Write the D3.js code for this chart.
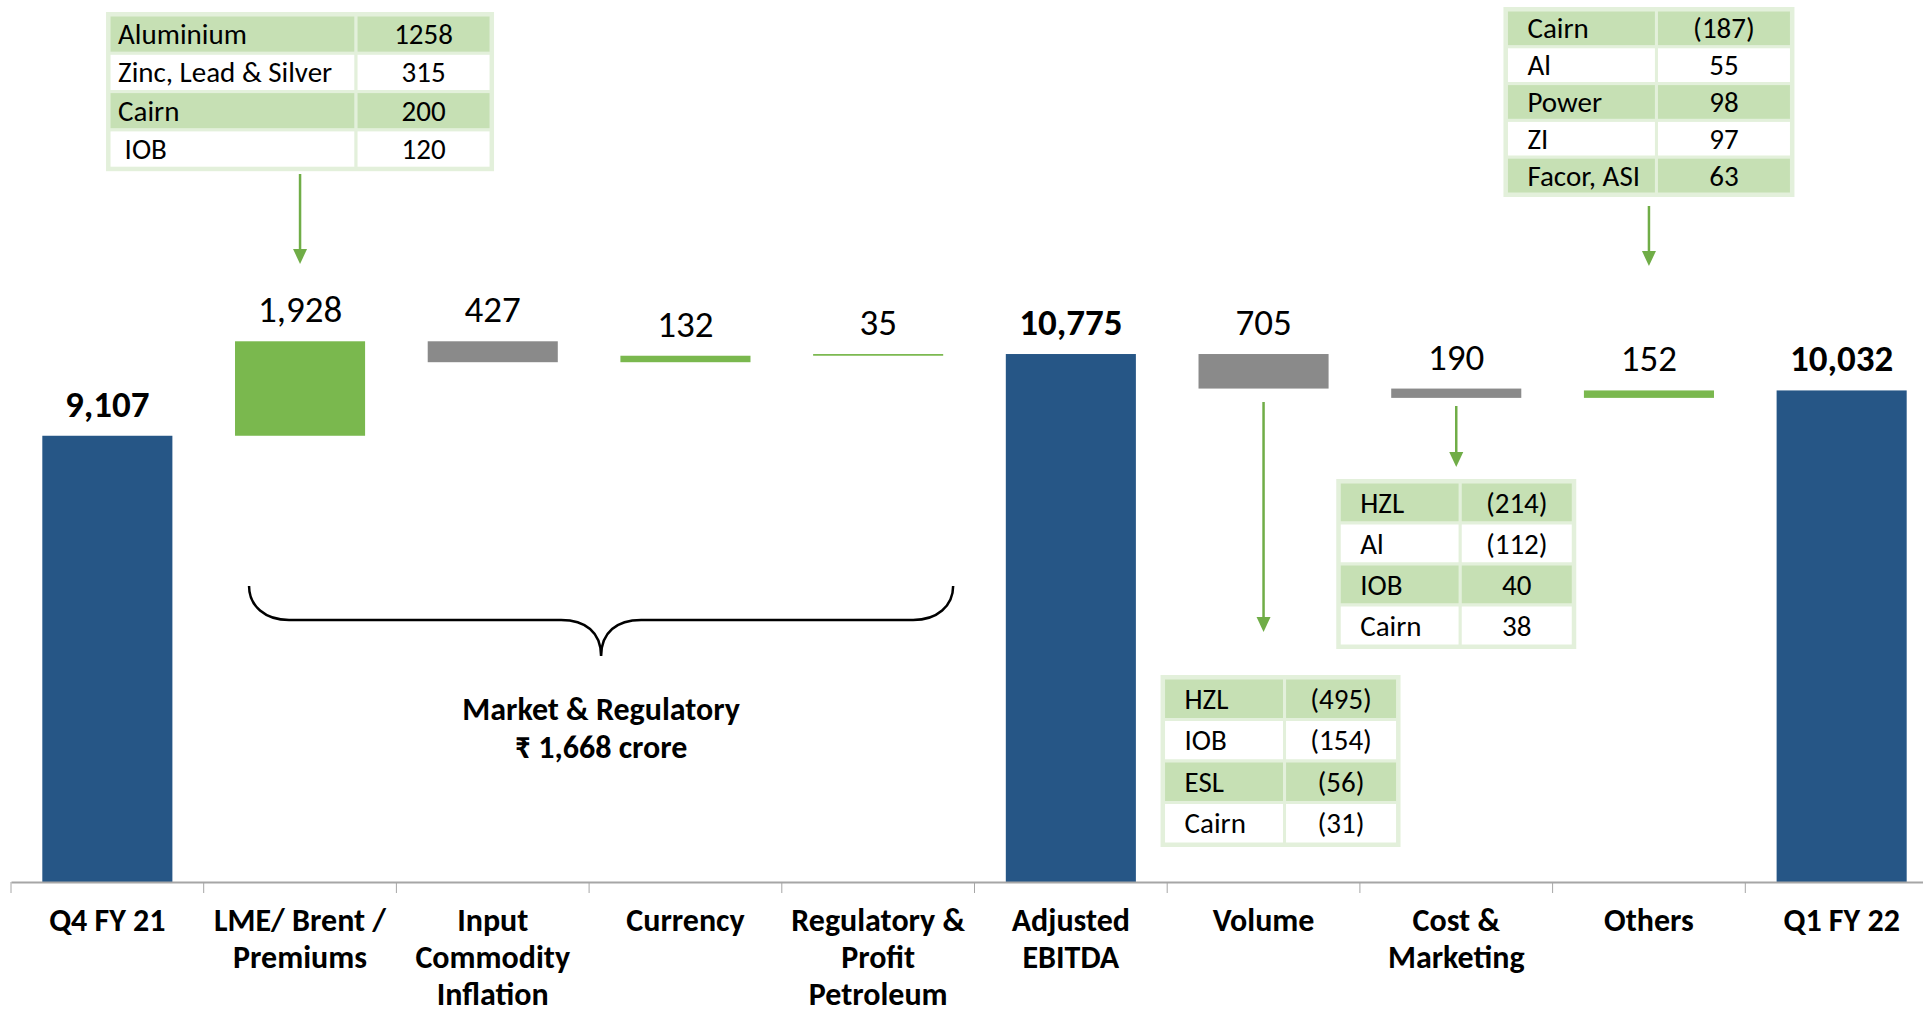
<!DOCTYPE html>
<html>
<head>
<meta charset="utf-8">
<script src="https://cdn.jsdelivr.net/npm/d3@7"></script>
<style>
  body { margin: 0; background: #fff; }
  svg { display: block; font-family: Carlito, Calibri, Lato, "Open Sans", sans-serif; }
</style>
</head>
<body>
<div id="chart"></div>
<script>
// EBITDA bridge Q4 FY21 -> Q1 FY22 (Rs crore)
const categories = [
  "Q4 FY 21", "LME/ Brent /\nPremiums", "Input\nCommodity\nInflation", "Currency",
  "Regulatory &\nProfit\nPetroleum", "Adjusted\nEBITDA", "Volume", "Cost &\nMarketing",
  "Others", "Q1 FY 22"
];
const changes = [9107, 1928, -427, 132, 35, 10775, -705, -190, 152, 10032];
const isTotal = [true, false, false, false, false, true, false, false, false, true];

// breakdown tables
const lmeRows = [["Aluminium", "1258"], ["Zinc, Lead & Silver", "315"], ["Cairn", "200"], [" IOB", "120"]];
const othersRows = [["Cairn", "(187)"], ["Al", "55"], ["Power", "98"], ["ZI", "97"], ["Facor, ASI", "63"]];
const costRows = [["HZL", "(214)"], ["Al", "(112)"], ["IOB", "40"], ["Cairn", "38"]];
const volumeRows = [["HZL", "(495)"], ["IOB", "(154)"], ["ESL", "(56)"], ["Cairn", "(31)"]];
const braceLines = ["Market & Regulatory", "\u20B9 1,668 crore"];

const W = 1923, H = 1013;
const BLUE = "#265686", GREEN = "#7ab84e", GRAY = "#8a8a8a", ARROW = "#70ad47";
const TABLE_FILL = "#c6e0b4", TABLE_LINE = "#e3f0db";

const svg = d3.select("#chart").append("svg")
  .attr("width", W).attr("height", H)
  .attr("viewBox", `0 0 ${W} ${H}`);

// running totals for the waterfall
let running = 0;
const steps = changes.map((v, i) => {
  let y0, y1;
  if (isTotal[i]) { y0 = 0; y1 = v; }
  else { y0 = running; y1 = running + v; }
  running = y1;
  return { cat: categories[i], value: v, y0, y1, total: isTotal[i] };
});

const xCell = d3.scaleBand().domain(categories).range([11, 1938]);
const x = d3.scaleBand().domain(categories).range([11, 1938])
  .paddingInner(0.325).paddingOuter(0.1625);
const y = d3.scaleLinear().domain([0, 18000]).range([882, 0]);
const xc = c => xCell(c) + xCell.bandwidth() / 2;

// bars
svg.append("g").selectAll("rect").data(steps).join("rect")
  .attr("x", d => x(d.cat))
  .attr("width", x.bandwidth())
  .attr("y", d => y(Math.max(d.y0, d.y1)))
  .attr("height", d => Math.max(1.5, Math.abs(y(d.y0) - y(d.y1))))
  .attr("fill", d => d.total ? BLUE : (d.value > 0 ? GREEN : GRAY));

// value labels
const fmt = d3.format(",");
svg.append("g").selectAll("text").data(steps).join("text")
  .attr("x", d => xc(d.cat))
  .attr("y", d => y(Math.max(d.y0, d.y1)) - 19)
  .attr("text-anchor", "middle")
  .style("font-size", "37px")
  .style("font-weight", d => d.total ? "bold" : "normal")
  .attr("fill", "#000")
  .text(d => fmt(Math.abs(d.value)));

// category axis
const axis = svg.append("g").attr("transform", `translate(0,${y(0)})`)
  .call(d3.axisBottom(xCell).tickSize(0).tickFormat(""));
axis.select(".domain").attr("stroke", "#a6a6a6").attr("stroke-width", 2);
axis.selectAll(".tick").remove();
axis.selectAll("line.sep").data(categories).join("line")
  .attr("class", "sep")
  .attr("x1", d => xCell(d)).attr("x2", d => xCell(d))
  .attr("y1", 0).attr("y2", 11)
  .attr("stroke", "#a6a6a6").attr("stroke-width", 1);

const labels = svg.append("g").selectAll("text").data(categories).join("text")
  .attr("x", d => xc(d))
  .attr("text-anchor", "middle")
  .style("font-size", "32px")
  .style("font-weight", "bold");
labels.each(function (d) {
  const t = d3.select(this);
  d.split("\n").forEach((line, i) => {
    t.append("tspan").attr("x", xc(d)).attr("y", 931 + i * 37).text(line);
  });
});

// brace over the market & regulatory items
const bl = xc(categories[1]) - 51, br = xc(categories[4]) + 75, bm = (bl + br) / 2;
const bTop = 586, bMid = 620, bTip = 656;
svg.append("path")
  .attr("d", `M${bl},${bTop} C${bl},${bMid - 14} ${bl + 16},${bMid} ${bl + 40},${bMid}
    H${bm - 40} C${bm - 16},${bMid} ${bm},${bMid + 12} ${bm},${bTip}
    C${bm},${bMid + 12} ${bm + 16},${bMid} ${bm + 40},${bMid}
    H${br - 40} C${br - 16},${bMid} ${br},${bMid - 14} ${br},${bTop}`)
  .attr("fill", "none").attr("stroke", "#000").attr("stroke-width", 2.5);
svg.append("g").selectAll("text").data(braceLines).join("text")
  .attr("x", bm).attr("y", (d, i) => 720 + i * 38)
  .attr("text-anchor", "middle")
  .style("font-size", "32px").style("font-weight", "bold")
  .text(d => d);

// breakdown tables
function drawTable(rows, cx, top, w1, w2, rowH, pad) {
  const left = cx - (w1 + w2) / 2;
  const g = svg.append("g");
  g.append("rect").attr("x", left - 1.5).attr("y", top - 1.5)
    .attr("width", w1 + w2 + 3).attr("height", rows.length * rowH + 3)
    .attr("fill", "#fff").attr("stroke", TABLE_LINE).attr("stroke-width", 3);
  rows.forEach((r, i) => {
    const fill = i % 2 === 0 ? TABLE_FILL : "#fff";
    const ty = top + i * rowH;
    g.append("rect").attr("x", left).attr("y", ty).attr("width", w1).attr("height", rowH)
      .attr("fill", fill).attr("stroke", TABLE_LINE).attr("stroke-width", 3);
    g.append("rect").attr("x", left + w1).attr("y", ty).attr("width", w2).attr("height", rowH)
      .attr("fill", fill).attr("stroke", TABLE_LINE).attr("stroke-width", 3);
    g.append("text").attr("x", left + pad).attr("y", ty + rowH / 2 + 10)
      .style("font-size", "29px").style("white-space", "pre").text(r[0]);
    g.append("text").attr("x", left + w1 + w2 / 2).attr("y", ty + rowH / 2 + 10)
      .attr("text-anchor", "middle").style("font-size", "29px").text(r[1]);
  });
}
drawTable(lmeRows, xc(categories[1]), 15, 247, 135, 38.3, 9);
drawTable(othersRows, xc(categories[8]), 10, 150, 135, 36.8, 21);
drawTable(costRows, xc(categories[7]), 482, 121, 113, 41, 21);
drawTable(volumeRows, xc(categories[6]) + 17, 678, 121, 113, 41.5, 21);

// arrows pointing from tables to bars
function arrow(cx, y1, y2) {
  svg.append("line").attr("x1", cx).attr("x2", cx).attr("y1", y1).attr("y2", y2 - 12)
    .attr("stroke", ARROW).attr("stroke-width", 2.5);
  svg.append("path")
    .attr("d", `M${cx - 7},${y2 - 15} L${cx + 7},${y2 - 15} L${cx},${y2} Z`)
    .attr("fill", ARROW);
}
arrow(xc(categories[1]), 174, 264);
arrow(xc(categories[8]), 206, 266);
arrow(xc(categories[6]), 402, 632);
arrow(xc(categories[7]), 406, 467);
</script>
</body>
</html>
